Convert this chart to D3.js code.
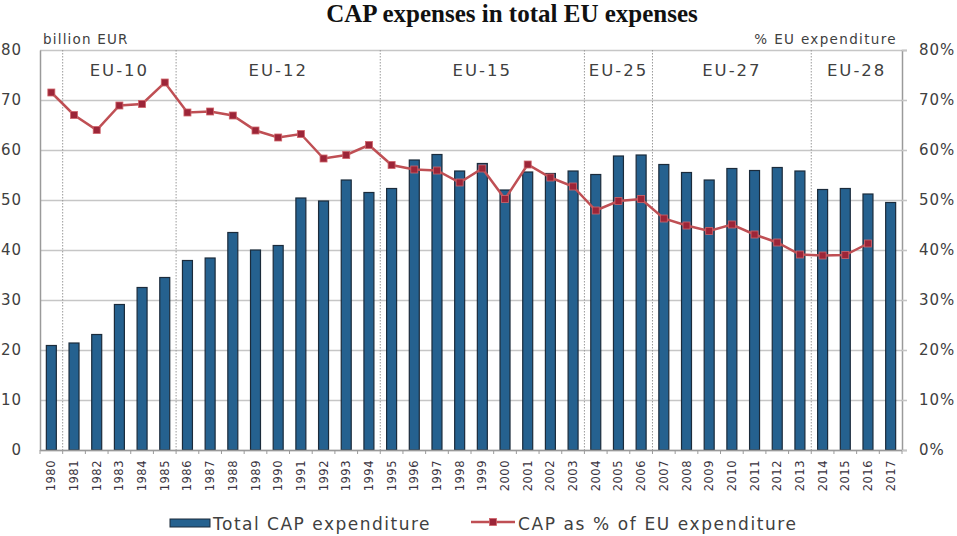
<!DOCTYPE html>
<html>
<head>
<meta charset="utf-8">
<script src="https://d3js.org/d3.v7.min.js"></script>
<style>
	body { margin: 0; background: #fff; }
	text { font-family: "DejaVu Sans", Verdana, sans-serif; fill: #404040; }
	.title { font-family: "Liberation Serif", "Times New Roman", serif; font-weight: bold; fill: #111; }
</style>
</head>
<body>
<main></main>
<script>
const years = ['1980','1981','1982','1983','1984','1985','1986','1987','1988','1989',
	'1990','1991','1992','1993','1994','1995','1996','1997','1998','1999',
	'2000','2001','2002','2003','2004','2005','2006','2007','2008','2009',
	'2010','2011','2012','2013','2014','2015','2016','2017'];

// billion EUR
const capTotal = [20.9, 21.4, 23.1, 29.1, 32.5, 34.5, 37.9, 38.4, 43.5, 40.0,
	40.9, 50.4, 49.8, 54.0, 51.5, 52.3, 58.0, 59.1, 55.8, 57.3,
	52.0, 55.6, 55.3, 55.8, 55.1, 58.8, 59.0, 57.1, 55.5, 54.0,
	56.3, 55.9, 56.5, 55.8, 52.1, 52.3, 51.2, 49.5];

// % of EU expenditure (no value for 2017)
const capShare = [71.5, 67.0, 64.0, 68.9, 69.2, 73.5, 67.5, 67.7, 66.9, 63.9,
	62.5, 63.2, 58.3, 59.0, 61.0, 57.0, 56.1, 55.9, 53.5, 56.3,
	50.2, 57.1, 54.5, 52.7, 47.9, 49.8, 50.2, 46.3, 44.9, 43.8,
	45.1, 43.1, 41.5, 39.1, 38.9, 39.0, 41.3, null];

const eraNames = ['EU-10', 'EU-12', 'EU-15', 'EU-25', 'EU-27', 'EU-28'];
const eraStart = ['1981', '1986', '1995', '2004', '2007', '2014'];

const leftTicks = [0, 10, 20, 30, 40, 50, 60, 70, 80];
const rightTicks = [0, 10, 20, 30, 40, 50, 60, 70, 80];

const W = 957, H = 536;
const margin = { top: 50, right: 55, bottom: 86, left: 40 };
const width = W - margin.left - margin.right;
const height = H - margin.top - margin.bottom;

const barColor = '#25618f';
const lineColor = '#bf4f54';
const markColor = '#9c2538';
const gridColor = '#c6c6c6';

var svg = d3.select('main')
	.append('svg')
	.attr('width', W)
	.attr('height', H);

const xScale = d3.scaleBand()
	.range([0, width])
	.domain(years)
	.padding(0.56)
	.paddingOuter(0.28);

const yScale = d3.scaleLinear()
	.range([height, 0])
	.domain([0, 80]);

const yScaleR = d3.scaleLinear()
	.range([height, 0])
	.domain([0, 80]);

const chart = svg.append('g')
	.attr('transform', `translate(${margin.left}, ${margin.top})`);

// horizontal grid
chart.append('g')
	.attr('class', 'grid')
	.call(d3.axisLeft(yScale)
		.tickValues(leftTicks)
		.tickSize(-width)
		.tickFormat(''))
	.call(g => g.select('.domain').remove())
	.call(g => g.selectAll('line').attr('stroke', gridColor).attr('stroke-width', 1.6));

// era separators
const step = width / years.length;
const eraX = eraStart.map(y => years.indexOf(y) * step);
chart.selectAll('.era-line')
	.data(eraX)
	.enter()
	.append('line')
	.attr('class', 'era-line')
	.attr('x1', d => d).attr('x2', d => d)
	.attr('y1', 0).attr('y2', height)
	.attr('stroke', '#9a9a9a')
	.attr('stroke-width', 1)
	.attr('stroke-dasharray', '1.5,1.5');

chart.selectAll('.era')
	.data(eraNames)
	.enter()
	.append('text')
	.attr('class', 'era')
	.attr('x', (d, i) => ((eraX[i]) + (i < eraX.length - 1 ? eraX[i + 1] : width)) / 2)
	.attr('y', 26)
	.attr('text-anchor', 'middle')
	.style('font-size', '16.5px')
	.style('letter-spacing', '2px')
	.text(d => d);

// bars
chart.selectAll('.bar')
	.data(capTotal)
	.enter()
	.append('rect')
	.attr('class', 'bar')
	.attr('x', (d, i) => xScale(years[i]))
	.attr('y', d => yScale(d))
	.attr('width', xScale.bandwidth())
	.attr('height', d => height - yScale(d))
	.attr('fill', barColor)
	.attr('stroke', '#1b2b3b')
	.attr('stroke-width', 1.2);

// axes
const xAxis = chart.append('g')
	.attr('transform', `translate(0, ${height})`)
	.call(d3.axisBottom(xScale).tickSize(0).tickFormat(''))
	.call(g => g.select('.domain').attr('stroke', '#9a9a9a').attr('stroke-width', 1.5));

xAxis.selectAll('.tickmark')
	.data(d3.range(years.length + 1))
	.enter()
	.append('line')
	.attr('x1', i => i * step).attr('x2', i => i * step)
	.attr('y1', 0).attr('y2', 4)
	.attr('stroke', '#9a9a9a');

chart.selectAll('.year')
	.data(years)
	.enter()
	.append('text')
	.attr('class', 'year')
	.attr('transform', d => `translate(${xScale(d) + xScale.bandwidth() / 2}, ${height + 10}) rotate(-90)`)
	.attr('dy', '0.35em')
	.attr('text-anchor', 'end')
	.style('font-size', '11.5px')
	.style('letter-spacing', '0.5px')
	.style('fill', '#3a3340')
	.text(d => d);

chart.append('g')
	.call(d3.axisLeft(yScale).tickValues(leftTicks).tickSize(0).tickPadding(18))
	.call(g => g.select('.domain').attr('stroke', '#9a9a9a').attr('stroke-width', 1.5))
	.call(g => g.selectAll('text').style('font-size', '15px').style('letter-spacing', '1px').style('fill', '#404040'));

chart.append('g')
	.attr('transform', `translate(${width}, 0)`)
	.call(d3.axisRight(yScaleR).tickValues(rightTicks).tickSize(5).tickPadding(12)
		.tickFormat(d => d + '%'))
	.call(g => g.select('.domain').attr('stroke', '#9a9a9a').attr('stroke-width', 1.5))
	.call(g => g.selectAll('line').attr('stroke', gridColor).attr('stroke-width', 1.6))
	.call(g => g.selectAll('text').style('font-size', '15px').style('letter-spacing', '1px').style('fill', '#404040'));

// line
const shareData = capShare.map((v, i) => ({ year: years[i], value: v })).filter(d => d.value != null);
const cx = d => xScale(d.year) + xScale.bandwidth() / 2;

chart.append('path')
	.datum(shareData)
	.attr('fill', 'none')
	.attr('stroke', lineColor)
	.attr('stroke-width', 2.5)
	.attr('d', d3.line().x(cx).y(d => yScaleR(d.value)));

chart.selectAll('.mark')
	.data(shareData)
	.enter()
	.append('rect')
	.attr('class', 'mark')
	.attr('x', d => cx(d) - 3.5)
	.attr('y', d => yScaleR(d.value) - 3.5)
	.attr('width', 7)
	.attr('height', 7)
	.attr('fill', markColor)
	.attr('stroke', '#d0646a')
	.attr('stroke-width', 0.8);

// unit labels
svg.append('text')
	.attr('x', margin.left + 3)
	.attr('y', 44)
	.style('font-size', '13.5px')
	.style('letter-spacing', '1.2px')
	.text('billion EUR');

svg.append('text')
	.attr('x', margin.left + width - 5)
	.attr('y', 44)
	.attr('text-anchor', 'end')
	.style('font-size', '13.5px')
	.style('letter-spacing', '1.35px')
	.text('% EU expenditure');

// title
svg.append('text')
	.attr('class', 'title')
	.attr('x', 512)
	.attr('y', 22)
	.attr('text-anchor', 'middle')
	.style('font-size', '25px')
	.text('CAP expenses in total EU expenses');

// legend
const legend = svg.append('g');
legend.append('rect')
	.attr('x', 170).attr('y', 519)
	.attr('width', 40).attr('height', 8)
	.attr('fill', barColor)
	.attr('stroke', '#1b2b3b');
legend.append('text')
	.attr('x', 213).attr('y', 530)
	.style('font-size', '17px')
	.style('letter-spacing', '1.5px')
	.text('Total CAP expenditure');

legend.append('line')
	.attr('x1', 471).attr('x2', 515)
	.attr('y1', 522).attr('y2', 522)
	.attr('stroke', lineColor)
	.attr('stroke-width', 2.5);
legend.append('rect')
	.attr('x', 489.5).attr('y', 518.5)
	.attr('width', 7).attr('height', 7)
	.attr('fill', markColor)
	.attr('stroke', '#d0646a')
	.attr('stroke-width', 0.8);
legend.append('text')
	.attr('x', 518).attr('y', 530)
	.style('font-size', '17px')
	.style('letter-spacing', '1.6px')
	.text('CAP as % of EU expenditure');
</script>
</body>
</html>
